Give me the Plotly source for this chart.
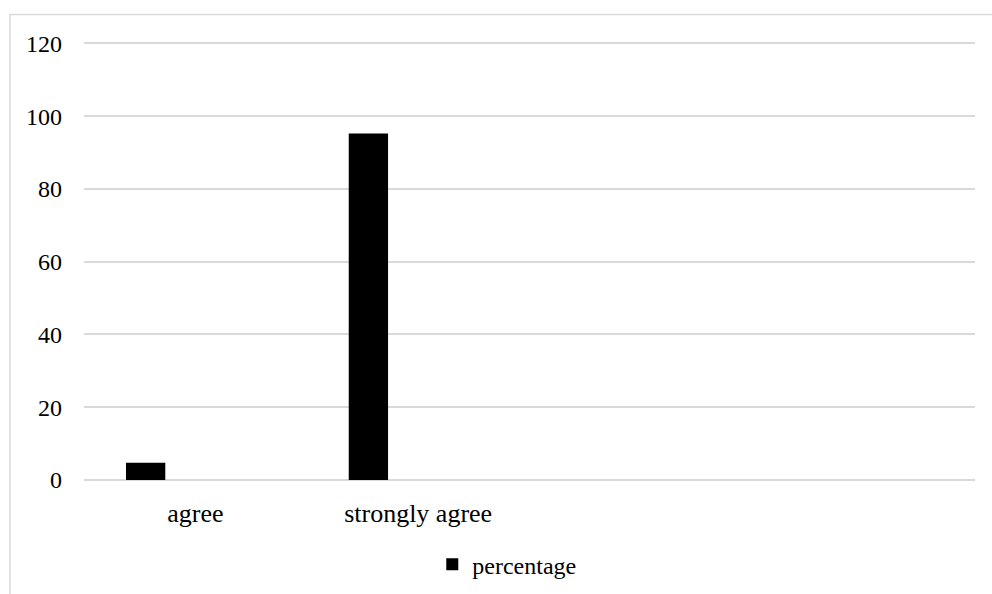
import plotly.graph_objects as go

categories = ["agree", "strongly agree"]
category_positions = [0, 1]
percentage = [4.76, 95.24]
y_ticks = [0, 20, 40, 60, 80, 100, 120]

FONT = "Liberation Serif, Times New Roman, serif"
GRID = "#d9d9d9"

PLOT_H = 594 - 114 - 41.54

fig = go.Figure()
fig.add_trace(go.Bar(
    x=category_positions,
    y=percentage,
    name="percentage",
    marker=dict(color="#000000", line=dict(width=0)),
    offset=-0.3115,
    width=0.1765,
    showlegend=True,
))

fig.update_layout(
    width=992,
    height=594,
    margin=dict(l=84, r=17, t=41.54, b=114, autoexpand=False),
    paper_bgcolor="white",
    plot_bgcolor="white",
    font=dict(family=FONT, size=24, color="#000000"),
    showlegend=True,
    legend=dict(
        orientation="h",
        x=0.4745,
        xanchor="center",
        y=-0.193,
        yanchor="middle",
        font=dict(family=FONT, size=24, color="#000000"),
        bgcolor="rgba(0,0,0,0)",
    ),
    xaxis=dict(
        range=[-0.5, 3.5],
        tickmode="array",
        tickvals=category_positions,
        ticktext=categories,
        tickfont=dict(family=FONT, size=26, color="#000000"),
        showgrid=False,
        zeroline=False,
        showline=False,
        ticks="",
        ticklabelstandoff=15,
        fixedrange=True,
    ),
    yaxis=dict(
        range=[0, 120.4],
        tickmode="array",
        tickvals=y_ticks,
        ticktext=[str(v) for v in y_ticks],
        tickfont=dict(family=FONT, size=24, color="#000000"),
        showgrid=True,
        gridcolor=GRID,
        gridwidth=1.5,
        zeroline=True,
        zerolinecolor=GRID,
        zerolinewidth=1.5,
        showline=False,
        ticks="",
        ticklabelstandoff=21,
        fixedrange=True,
    ),
    shapes=[
        dict(
            type="rect",
            xref="paper",
            yref="paper",
            x0=(10 - 84) / 891,
            x1=1.2,
            y0=-0.5,
            y1=(480 - 14) / PLOT_H,
            line=dict(color=GRID, width=1.5),
            fillcolor="rgba(0,0,0,0)",
            layer="below",
        )
    ],
)

fig.write_html("out.html")
